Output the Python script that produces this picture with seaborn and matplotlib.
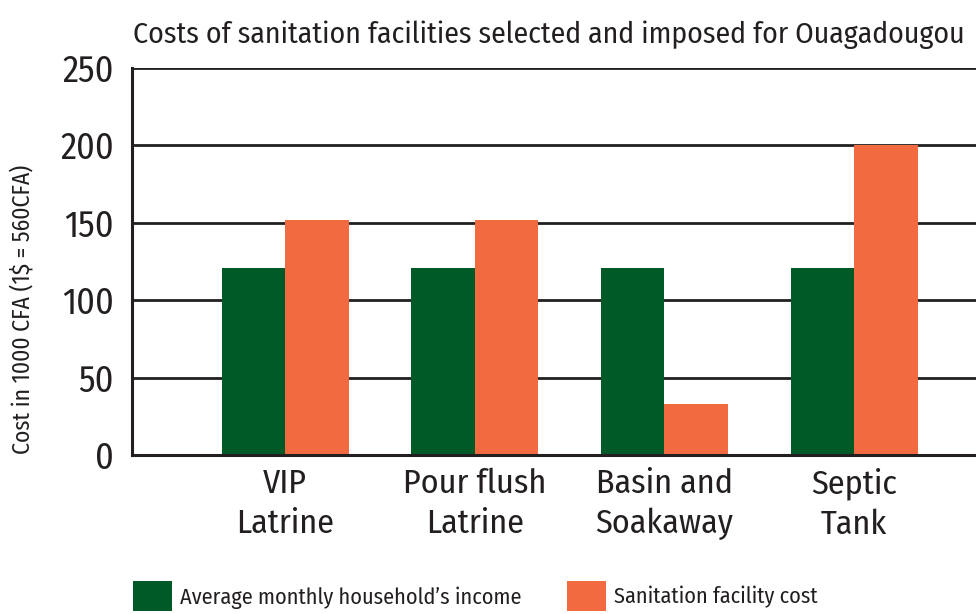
import matplotlib
matplotlib.use("Agg")
import matplotlib.pyplot as plt
import seaborn as sns
import pandas as pd
from matplotlib.patches import Patch

categories = ["VIP\nLatrine", "Pour flush\nLatrine", "Basin and\nSoakaway", "Septic\nTank"]
income = [121, 121, 121, 121]
facility_cost = [152, 152, 33, 200]
series_names = ["Average monthly household\u2019s income", "Sanitation facility cost"]
colors = ["#005a28", "#f26a40"]
yticks = [0, 50, 100, 150, 200, 250]

df = pd.DataFrame({
    "category": categories * 2,
    "value": income + facility_cost,
    "series": [series_names[0]] * 4 + [series_names[1]] * 4,
})

sns.set_theme(style="white")
plt.rcParams["font.family"] = ["Fira Sans Condensed", "DejaVu Sans"]
INK = "#231f20"

fig = plt.figure(figsize=(9.76, 6.14), dpi=100)
ax = fig.add_axes([132 / 976, 1 - 455 / 614, 1 - 132 / 976, (455 - 68) / 614])

sns.barplot(data=df, x="category", y="value", hue="series", palette=colors,
            width=0.67, gap=0, saturation=1, ax=ax, legend=False, linewidth=0)

ax.set_xlim(-0.807, 3.643)
ax.set_ylim(0, 250)
ax.set_yticks(yticks)
ax.set_yticklabels([str(t) for t in yticks], fontsize=26, color=INK)
ax.tick_params(axis="y", length=0, pad=13)
ax.tick_params(axis="x", length=0, pad=9, labelsize=24.5, labelcolor=INK)
ax.set_xlabel("")
ax.set_ylabel("Cost in 1000 CFA (1$ = 560CFA)", fontsize=17, color=INK)
ax.yaxis.set_label_coords((34 - 132) / 844, (455 - 309) / 387)
for t in ax.get_xticklabels():
    t.set_linespacing(1.33)

ax.set_axisbelow(True)
ax.yaxis.grid(True, color=INK, linewidth=2)
ax.xaxis.grid(False)
for side in ["top", "right"]:
    ax.spines[side].set_visible(False)
for side in ["left", "bottom"]:
    ax.spines[side].set_color(INK)
    ax.spines[side].set_linewidth(2.2)

fig.text(133 / 976, 1 - 43 / 614, "Costs of sanitation facilities selected and imposed for Ouagadougou",
         fontsize=21.4, color=INK, ha="left", va="baseline")

h1 = Patch(facecolor=colors[0], edgecolor="none")
h2 = Patch(facecolor=colors[1], edgecolor="none")
leg1 = fig.legend([h1], [series_names[0]], loc="lower left", bbox_to_anchor=(122 / 976, -0.014),
                  frameon=False, fontsize=16, handlelength=1.75, handleheight=1.7,
                  handletextpad=0.35, borderpad=0, labelcolor=INK)
leg2 = fig.legend([h2], [series_names[1]], loc="lower left", bbox_to_anchor=(556 / 976, -0.014),
                  frameon=False, fontsize=16, handlelength=1.75, handleheight=1.7,
                  handletextpad=0.35, borderpad=0, labelcolor=INK)

fig.savefig("out.png", dpi=100)
